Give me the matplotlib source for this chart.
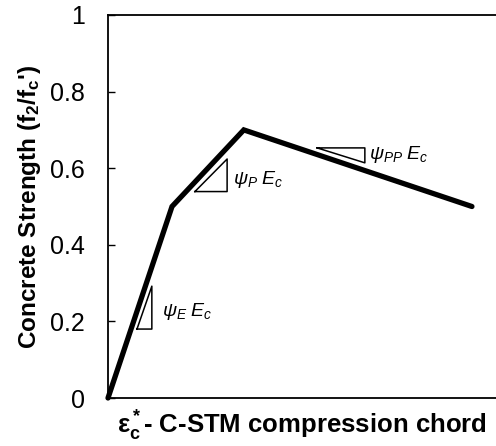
import matplotlib
matplotlib.use("Agg")
import matplotlib.pyplot as plt

plt.rcParams['font.family'] = ['Liberation Sans', 'DejaVu Sans']
plt.rcParams['mathtext.fontset'] = 'custom'
plt.rcParams['mathtext.rm'] = 'Liberation Sans'
plt.rcParams['mathtext.it'] = 'Liberation Sans:italic'
plt.rcParams['mathtext.bf'] = 'Liberation Sans:bold'

# Data (normalized strain vs f2/fc')
strain = [0.0, 0.165, 0.35, 0.938]
strength = [0.0, 0.5, 0.7, 0.5]
yticks = [0, 0.2, 0.4, 0.6, 0.8, 1.0]
yticklabels = ["0", "0.2", "0.4", "0.6", "0.8", "1"]

# slope triangles (data coordinates) and labels
tri_E = [(0.0747, 0.180), (0.113, 0.180), (0.113, 0.292)]
tri_P = [(0.224, 0.539), (0.307, 0.539), (0.307, 0.624)]
tri_PP = [(0.539, 0.653), (0.662, 0.653), (0.662, 0.614)]
labels = [(0.138, 0.226, r"$\psi_E\;E_c$"),
          (0.322, 0.571, r"$\psi_P\;E_c$"),
          (0.672, 0.636, r"$\psi_{PP}\;E_c$")]

fig = plt.figure(figsize=(4.96, 4.46), dpi=100)
ax = fig.add_axes([108/496, 48/446, 1 - 108/496, (398-15)/446])

ax.plot(strain, strength, color='black', lw=3.8, clip_on=False,
        solid_capstyle='round', solid_joinstyle='miter')

for tri in (tri_E, tri_P, tri_PP):
    xs = [p[0] for p in tri] + [tri[0][0]]
    ys = [p[1] for p in tri] + [tri[0][1]]
    ax.plot(xs, ys, color='black', lw=1.1)

for x, y, s in labels:
    ax.text(x, y, s, fontsize=14, va='center', ha='left')

ax.set_xlim(0, 1)
ax.set_ylim(0, 1)
ax.set_yticks(yticks)
ax.set_yticklabels(yticklabels)
ax.set_xticks([])
ax.tick_params(axis='y', direction='in', length=5, width=1, labelsize=18, pad=16.5)
ax.spines['right'].set_visible(False)
for s in ('left', 'top', 'bottom'):
    ax.spines[s].set_linewidth(1.3)

ax.set_ylabel(r"Concrete Strength (f$_\mathbf{2}$/f$_\mathbf{c}$')", fontsize=17.5,
              fontweight='bold', labelpad=5)
ax.set_xlabel(r"$\mathbf{\varepsilon_c^*}$- C-STM compression chord", fontsize=18.5,
              fontweight='bold', labelpad=8)

fig.savefig("out.png", dpi=100)
